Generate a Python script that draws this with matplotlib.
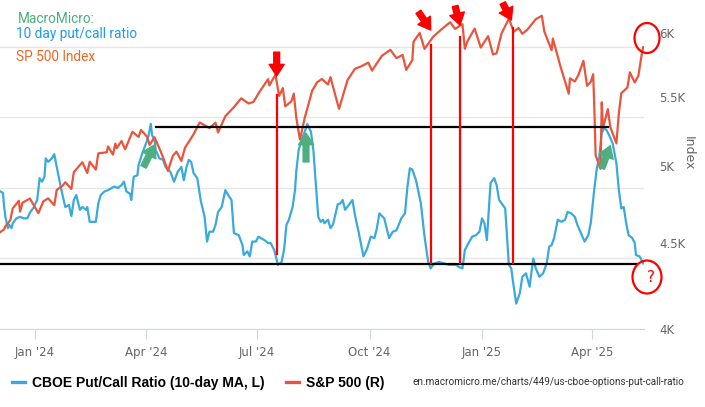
import matplotlib
matplotlib.use("Agg")
import matplotlib.pyplot as plt
import matplotlib.dates as mdates
import matplotlib.ticker as mticker
import pandas as pd
from matplotlib.patches import Ellipse
from matplotlib.lines import Line2D

# CBOE put/call ratio, 10-day MA (left axis, labels hidden on the original)
pc_dates = [
    "2023-12-04", "2023-12-06", "2023-12-07", "2023-12-08", "2023-12-10", "2023-12-11", "2023-12-13",
    "2023-12-14", "2023-12-17", "2023-12-20", "2023-12-23", "2023-12-26", "2023-12-28", "2023-12-31",
    "2024-01-03", "2024-01-05", "2024-01-07", "2024-01-09", "2024-01-10", "2024-01-12", "2024-01-15",
    "2024-01-17", "2024-01-19", "2024-01-22", "2024-01-24", "2024-01-26", "2024-01-29", "2024-01-31",
    "2024-02-02", "2024-02-04", "2024-02-07", "2024-02-09", "2024-02-12", "2024-02-13", "2024-02-15",
    "2024-02-20", "2024-02-22", "2024-02-24", "2024-02-27", "2024-03-01", "2024-03-04", "2024-03-06",
    "2024-03-09", "2024-03-12", "2024-03-14", "2024-03-16", "2024-03-19", "2024-03-20", "2024-03-22",
    "2024-03-25", "2024-03-26", "2024-03-29", "2024-04-01", "2024-04-03", "2024-04-05", "2024-04-06",
    "2024-04-08", "2024-04-09", "2024-04-12", "2024-04-15", "2024-04-17", "2024-04-21", "2024-04-24",
    "2024-04-27", "2024-04-30", "2024-05-02", "2024-05-04", "2024-05-06", "2024-05-08", "2024-05-10",
    "2024-05-13", "2024-05-16", "2024-05-19", "2024-05-21", "2024-05-23", "2024-05-26", "2024-05-28",
    "2024-05-30", "2024-06-02", "2024-06-05", "2024-06-08", "2024-06-10", "2024-06-12", "2024-06-16",
    "2024-06-19", "2024-06-20", "2024-06-23", "2024-06-25", "2024-06-27", "2024-06-30", "2024-07-02",
    "2024-07-04", "2024-07-07", "2024-07-10", "2024-07-12", "2024-07-15", "2024-07-18", "2024-07-21",
    "2024-07-23", "2024-07-25", "2024-07-27", "2024-07-30", "2024-08-01", "2024-08-02", "2024-08-04",
    "2024-08-07", "2024-08-10", "2024-08-11", "2024-08-14", "2024-08-16", "2024-08-18", "2024-08-20",
    "2024-08-22", "2024-08-24", "2024-08-25", "2024-08-28", "2024-08-30", "2024-09-01", "2024-09-03",
    "2024-09-05", "2024-09-07", "2024-09-09", "2024-09-11", "2024-09-14", "2024-09-17", "2024-09-19",
    "2024-09-22", "2024-09-26", "2024-09-29", "2024-10-02", "2024-10-05", "2024-10-07", "2024-10-09",
    "2024-10-13", "2024-10-17", "2024-10-20", "2024-10-23", "2024-10-27", "2024-10-30", "2024-11-01",
    "2024-11-03", "2024-11-05", "2024-11-08", "2024-11-12", "2024-11-15", "2024-11-18", "2024-11-20",
    "2024-11-23", "2024-11-27", "2024-12-01", "2024-12-05", "2024-12-11", "2024-12-13", "2024-12-16",
    "2024-12-18", "2024-12-21", "2024-12-24", "2024-12-27", "2024-12-30", "2025-01-01", "2025-01-03",
    "2025-01-05", "2025-01-08", "2025-01-11", "2025-01-13", "2025-01-15", "2025-01-18", "2025-01-20",
    "2025-01-23", "2025-01-25", "2025-01-26", "2025-01-29", "2025-02-01", "2025-02-03", "2025-02-06",
    "2025-02-09", "2025-02-10", "2025-02-12", "2025-02-14", "2025-02-17", "2025-02-20", "2025-02-23",
    "2025-02-25", "2025-02-27", "2025-03-01", "2025-03-04", "2025-03-07", "2025-03-10", "2025-03-12",
    "2025-03-15", "2025-03-18", "2025-03-20", "2025-03-23", "2025-03-26", "2025-03-29", "2025-03-31",
    "2025-04-03", "2025-04-05", "2025-04-07", "2025-04-09", "2025-04-11", "2025-04-13", "2025-04-15",
    "2025-04-18", "2025-04-21", "2025-04-23", "2025-04-25", "2025-04-27", "2025-04-29", "2025-05-01",
    "2025-05-04", "2025-05-06", "2025-05-07", "2025-05-10", "2025-05-13",
]
pc_values = [
    0.895, 0.893, 0.873, 0.859, 0.843, 0.848, 0.843,
    0.850, 0.857, 0.859, 0.857, 0.857, 0.865, 0.872,
    0.883, 0.914, 0.909, 0.916, 0.942, 0.937, 0.942,
    0.948, 0.930, 0.904, 0.888, 0.873, 0.876, 0.860,
    0.883, 0.890, 0.869, 0.873, 0.869, 0.873, 0.852,
    0.852, 0.878, 0.890, 0.895, 0.897, 0.900, 0.902,
    0.900, 0.904, 0.909, 0.895, 0.892, 0.883, 0.916,
    0.918, 0.933, 0.949, 0.963, 0.973, 0.991, 0.975,
    0.968, 0.954, 0.942, 0.940, 0.930, 0.923, 0.909,
    0.923, 0.930, 0.911, 0.928, 0.940, 0.937, 0.921,
    0.914, 0.881, 0.859, 0.824, 0.838, 0.838, 0.848,
    0.866, 0.873, 0.897, 0.888, 0.883, 0.836, 0.833,
    0.819, 0.805, 0.810, 0.803, 0.824, 0.824, 0.831,
    0.829, 0.826, 0.822, 0.822, 0.812, 0.791, 0.795,
    0.812, 0.848, 0.855, 0.873, 0.897, 0.923, 0.954,
    0.971, 0.985, 0.991, 0.980, 0.954, 0.907, 0.859,
    0.852, 0.855, 0.850, 0.855, 0.843, 0.848, 0.862,
    0.877, 0.878, 0.883, 0.869, 0.876, 0.883, 0.862,
    0.838, 0.803, 0.814, 0.831, 0.829, 0.843, 0.864,
    0.857, 0.829, 0.838, 0.840, 0.857, 0.864, 0.902,
    0.928, 0.926, 0.911, 0.878, 0.831, 0.795, 0.786,
    0.793, 0.795, 0.793, 0.791, 0.791, 0.788, 0.786,
    0.812, 0.822, 0.831, 0.833, 0.838, 0.857, 0.850,
    0.826, 0.907, 0.914, 0.904, 0.883, 0.876, 0.871,
    0.791, 0.786, 0.772, 0.736, 0.751, 0.774, 0.779,
    0.760, 0.774, 0.800, 0.786, 0.774, 0.779, 0.793,
    0.817, 0.819, 0.829, 0.855, 0.852, 0.855, 0.866,
    0.864, 0.859, 0.848, 0.836, 0.824, 0.833, 0.850,
    0.900, 0.928, 0.944, 0.978, 0.985, 0.982, 0.975,
    0.963, 0.935, 0.897, 0.871, 0.873, 0.850, 0.833,
    0.829, 0.822, 0.805, 0.803, 0.793,
]

# S&P 500 (right axis, log)
spx_dates = [
    "2023-12-04", "2023-12-07", "2023-12-08", "2023-12-12", "2023-12-14", "2023-12-19", "2023-12-20",
    "2023-12-22", "2023-12-28", "2024-01-04", "2024-01-08", "2024-01-12", "2024-01-17", "2024-01-19",
    "2024-01-24", "2024-01-26", "2024-01-31", "2024-02-02", "2024-02-09", "2024-02-13", "2024-02-15",
    "2024-02-20", "2024-02-22", "2024-02-29", "2024-03-01", "2024-03-05", "2024-03-07", "2024-03-08",
    "2024-03-12", "2024-03-15", "2024-03-21", "2024-03-26", "2024-03-28", "2024-04-02", "2024-04-04",
    "2024-04-08", "2024-04-12", "2024-04-15", "2024-04-19", "2024-04-23", "2024-04-26", "2024-04-30",
    "2024-05-03", "2024-05-10", "2024-05-15", "2024-05-23", "2024-05-28", "2024-05-30", "2024-06-05",
    "2024-06-12", "2024-06-18", "2024-06-24", "2024-06-28", "2024-07-03", "2024-07-10", "2024-07-11",
    "2024-07-16", "2024-07-19", "2024-07-22", "2024-07-24", "2024-07-29", "2024-07-31", "2024-08-02",
    "2024-08-05", "2024-08-09", "2024-08-15", "2024-08-19", "2024-08-23", "2024-08-28", "2024-08-30",
    "2024-09-06", "2024-09-13", "2024-09-19", "2024-09-24", "2024-09-30", "2024-10-03", "2024-10-11",
    "2024-10-18", "2024-10-23", "2024-10-28", "2024-10-31", "2024-11-05", "2024-11-06", "2024-11-11",
    "2024-11-15", "2024-11-22", "2024-11-29", "2024-12-06", "2024-12-10", "2024-12-16", "2024-12-18",
    "2024-12-20", "2024-12-26", "2024-12-31", "2025-01-06", "2025-01-10", "2025-01-13", "2025-01-17",
    "2025-01-23", "2025-01-27", "2025-01-31", "2025-02-03", "2025-02-07", "2025-02-14", "2025-02-19",
    "2025-02-21", "2025-02-27", "2025-02-28", "2025-03-06", "2025-03-10", "2025-03-13", "2025-03-14",
    "2025-03-18", "2025-03-21", "2025-03-25", "2025-03-28", "2025-03-31", "2025-04-02", "2025-04-03",
    "2025-04-04", "2025-04-08", "2025-04-09", "2025-04-10", "2025-04-14", "2025-04-16", "2025-04-21",
    "2025-04-23", "2025-04-25", "2025-04-30", "2025-05-02", "2025-05-06", "2025-05-09", "2025-05-12",
    "2025-05-13",
]
spx_values = [
    4569, 4585, 4604, 4643, 4719, 4768, 4698,
    4755, 4783, 4688, 4764, 4784, 4739, 4840,
    4869, 4891, 4846, 4959, 5027, 4953, 5030,
    4976, 5088, 5096, 5137, 5079, 5157, 5124,
    5175, 5117, 5241, 5204, 5254, 5205, 5147,
    5202, 5123, 5061, 4967, 5071, 5100, 5036,
    5128, 5223, 5308, 5268, 5306, 5236, 5354,
    5421, 5487, 5448, 5460, 5537, 5633, 5585,
    5667, 5505, 5564, 5427, 5464, 5522, 5346,
    5186, 5344, 5543, 5608, 5634, 5592, 5648,
    5408, 5626, 5713, 5732, 5762, 5699, 5815,
    5864, 5797, 5823, 5705, 5782, 5929, 6001,
    5871, 5969, 6032, 6090, 6034, 6074, 5872,
    5931, 6037, 5882, 5975, 5827, 5836, 5997,
    6119, 6012, 6041, 5994, 6026, 6115, 6144,
    6013, 5861, 5955, 5739, 5615, 5522, 5639,
    5615, 5667, 5776, 5581, 5612, 5671, 5396,
    5074, 4982, 5457, 5268, 5406, 5275, 5158,
    5376, 5525, 5569, 5686, 5607, 5660, 5844,
    5886,
]

# hand-drawn markup on the original
pc_low = 0.7915
pc_high = 0.987
high_line = ["2024-04-09", "2025-04-14"]
low_line = ["2023-12-04", "2025-05-08"]
red_marks = [  # date, top, bottom (put/call units)
    ("2024-07-17", 1.032, 0.806),
    ("2024-11-20", 1.103, 0.794),
    ("2024-12-14", 1.114, 0.794),
    ("2025-01-26", 1.127, 0.794),
]
red_arrows = [  # tip, tail on S&P axis
    (("2024-07-17", 5657), ("2024-07-17", 5845)),
    (("2024-11-20", 6025), ("2024-11-10", 6177)),
    (("2024-12-14", 6066), ("2024-12-10", 6226)),
    (("2025-01-25", 6108), ("2025-01-18", 6252)),
]
green_arrows = [  # tip, tail on put/call axis
    (("2024-04-08", 0.961), ("2024-03-30", 0.930)),
    (("2024-08-10", 0.978), ("2024-08-10", 0.937)),
    (("2025-04-16", 0.960), ("2025-04-09", 0.928)),
]

BLUE = "#3aaadc"
RED = "#e8553c"

pc_x = pd.to_datetime(pc_dates)
spx_x = pd.to_datetime(spx_dates)

fig = plt.figure(figsize=(7.05, 4.07), dpi=100)
ax = fig.add_axes([0, 78 / 407, 644 / 705, 329 / 407])
ax2 = ax.twinx()

ax.plot(pc_x, pc_values, color=BLUE, lw=1.6)
ax2.plot(spx_x, spx_values, color=RED, lw=1.6)

# markup lines
ax2.plot(pd.to_datetime(high_line), [pc_high, pc_high], color="black", lw=1.6, transform=ax.transData)
ax2.plot(pd.to_datetime(low_line), [pc_low, pc_low], color="black", lw=1.6, transform=ax.transData)
for d, top, bot in red_marks:
    ax2.plot(pd.to_datetime([d, d]), [top, bot], color="red", lw=1.6, transform=ax.transData)

arrow_style = "simple,head_length=0.7,head_width=0.9,tail_width=0.35"
for tip, tail in red_arrows:
    ax2.annotate("", xy=(pd.Timestamp(tip[0]), tip[1]), xytext=(pd.Timestamp(tail[0]), tail[1]),
                 arrowprops=dict(arrowstyle=arrow_style, color="red", mutation_scale=12, shrinkA=0, shrinkB=0))
for tip, tail in green_arrows:
    ax2.annotate("", xy=(mdates.date2num(pd.Timestamp(tip[0])), tip[1]),
                 xytext=(mdates.date2num(pd.Timestamp(tail[0])), tail[1]),
                 xycoords=ax.transData, textcoords=ax.transData,
                 arrowprops=dict(arrowstyle=arrow_style, color="#4caf7d", mutation_scale=12, shrinkA=0, shrinkB=0))

# axes styling
for a in (ax, ax2):
    for s in ("top", "left", "right"):
        a.spines[s].set_visible(False)
ax2.spines["bottom"].set_visible(False)
ax.spines["bottom"].set_color("#ccd6eb")

ax.set_yticks([0.7, 0.8, 0.9, 1.0, 1.1])
ax.tick_params(axis="y", left=False, labelleft=False)
ax.grid(axis="y", color="#e6e6e6", lw=1)
ax.xaxis.set_major_locator(mdates.MonthLocator(bymonth=[1, 4, 7, 10]))
ax.xaxis.set_major_formatter(mdates.DateFormatter("%b '%y"))
ax.tick_params(axis="x", length=7, color="#ccd6eb", labelcolor="#666666", labelsize=8.5, pad=5)

ax2.set_yscale("log")
ax2.set_yticks([4000, 4500, 5000, 5500, 6000])
ax2.yaxis.set_major_formatter(mticker.FuncFormatter(lambda v, p: f"{v / 1000:g}K"))
ax2.yaxis.set_minor_locator(mticker.NullLocator())
ax2.tick_params(axis="y", length=0, pad=11, labelcolor="#666666", labelsize=8.5)
ax2.set_ylabel("Index", rotation=270, color="#666666", fontsize=9)
ax2.yaxis.set_label_coords(1.079, 0.535)

ax.set_xlim(pd.Timestamp("2023-12-03 14:00"), pd.Timestamp("2025-05-13 14:00"))
ax.set_ylim(0.7, 0.7 + 329 / 705)
ax2.set_ylim(4000, 6278)

# titles written on the chart
fig.text(18 / 705, 1 - 23 / 407, "MacroMicro:", color="#4caf7d", fontsize=9.8, family="Roboto")
fig.text(16 / 705, 1 - 38 / 407, "10 day put/call ratio", color="#1e9be8", fontsize=9.8, family="Roboto")
fig.text(16 / 705, 1 - 61 / 407, "SP 500 Index", color="#f26522", fontsize=9.8, family="Roboto")

# circles and question mark
fig.add_artist(Ellipse((647 / 705, 1 - 38 / 407), 25 / 705, 30 / 407, transform=fig.transFigure,
                       fill=False, ec="red", lw=1.6))
fig.add_artist(Ellipse((647 / 705, 1 - 277 / 407), 29 / 705, 33 / 407, transform=fig.transFigure,
                       fill=False, ec="red", lw=1.6))
fig.text(651 / 705, 1 - 278 / 407, "?", color="red", fontsize=11, ha="center", va="center")

# legend and source
handles = [Line2D([], [], color=BLUE, lw=2.4), Line2D([], [], color=RED, lw=2.4)]
fig.legend(handles, ["CBOE Put/Call Ratio (10-day MA, L)", "S&P 500 (R)"], ncol=2, frameon=False,
           loc="center left", bbox_to_anchor=(12 / 705, 1 - 383 / 407),
           prop=dict(family="Liberation Sans", weight="bold", size=10),
           handlelength=0.95, handletextpad=0.5, columnspacing=1.5, borderpad=0, borderaxespad=0)
fig.text(413 / 705, 1 - 382 / 407, "en.macromicro.me/charts/449/us-cboe-options-put-call-ratio",
         color="#333333", fontsize=7.2, family="Roboto", va="center")

fig.savefig("out.png", dpi=100)
